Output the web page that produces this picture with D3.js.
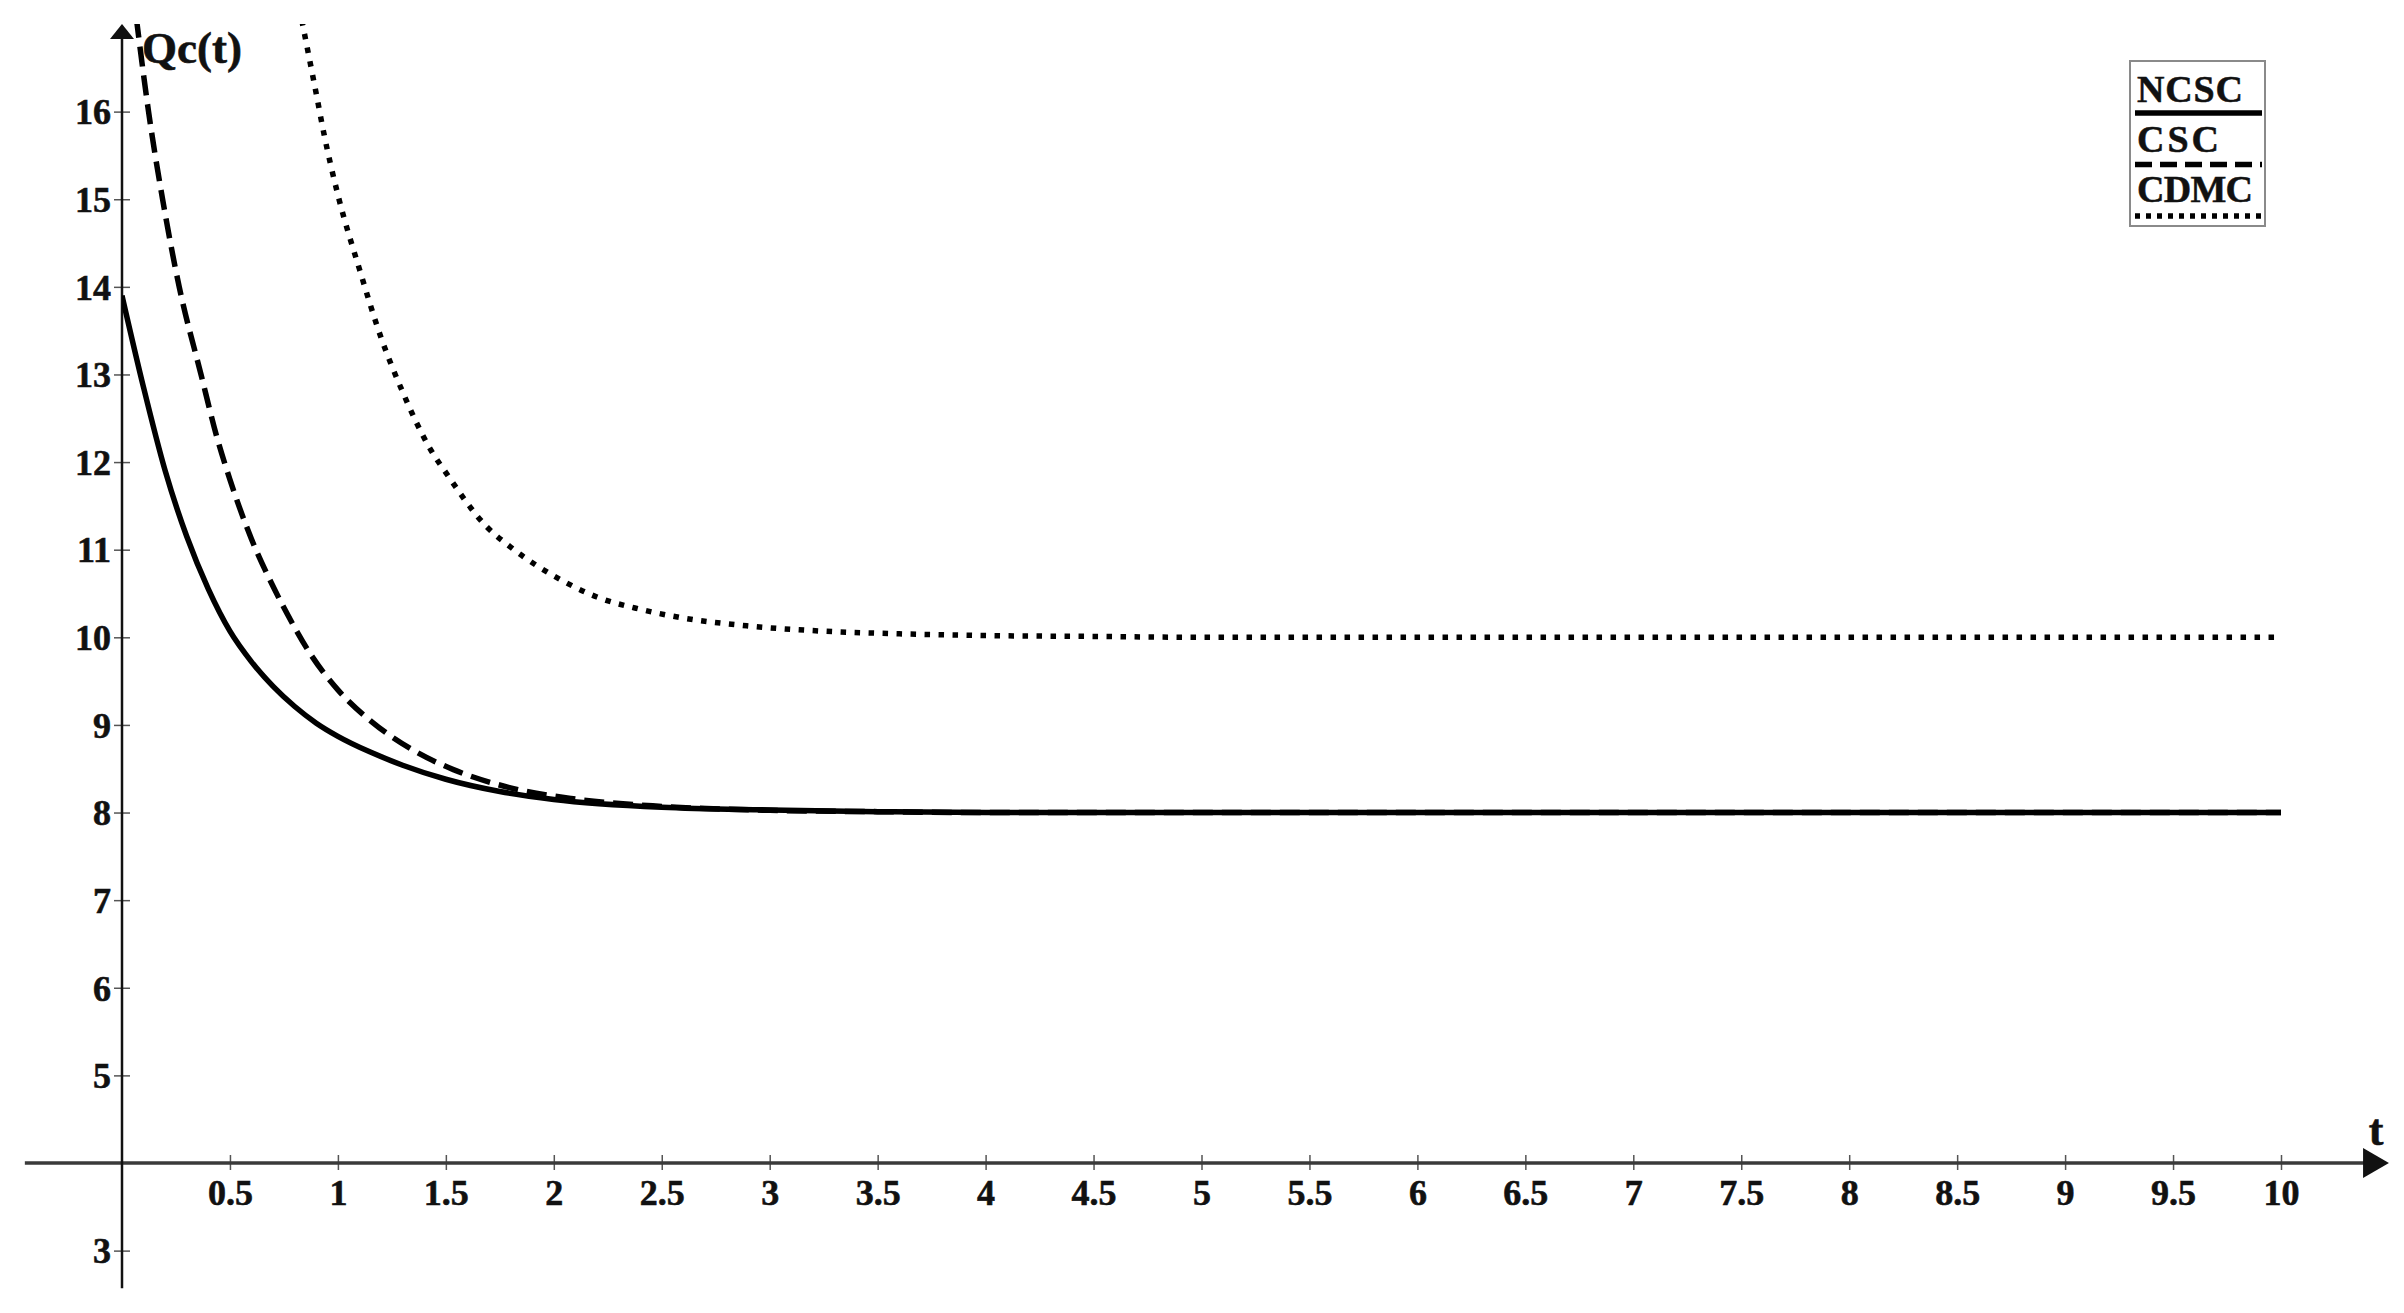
<!DOCTYPE html>
<html>
<head>
<meta charset="utf-8">
<script src="https://cdn.jsdelivr.net/npm/d3@7"></script>
<style>
  body { margin: 0; background: #fff; }
  svg { display: block; }
  text { font-family: "Liberation Serif", "Times New Roman", serif; font-weight: bold; fill: #111; }
</style>
</head>
<body>
<div id="chart"></div>
<script>
// values
var tNCSC = [0, 0.1, 0.2, 0.3, 0.4, 0.5, 0.6, 0.7, 0.8, 0.9, 1.0, 1.15, 1.3, 1.5, 1.75, 2.0, 2.5, 3.0, 3.5, 4, 5, 6, 7, 8, 9, 10];
var qNCSC = [13.9, 12.85, 11.9, 11.15, 10.55, 10.07, 9.72, 9.44, 9.21, 9.02, 8.87, 8.69, 8.54, 8.38, 8.24, 8.15, 8.06, 8.03, 8.01, 8.0, 8.0, 8.0, 8.0, 8.0, 8.0, 8.0];

var tCSC = [0.05, 0.08, 0.123, 0.188, 0.265, 0.366, 0.44, 0.5, 0.6, 0.7, 0.78, 0.87, 1.0, 1.16, 1.35, 1.535, 1.77, 2.08, 2.5, 3.0, 3.5, 4, 5, 6, 7, 8, 9, 10];
var qCSC = [17.4, 16.8, 16.0, 15.0, 14.0, 13.0, 12.28, 11.8, 11.12, 10.58, 10.2, 9.82, 9.4, 9.03, 8.71, 8.49, 8.3, 8.16, 8.07, 8.025, 8.01, 8.0, 8.0, 8.0, 8.0, 8.0, 8.0, 8.0];

var tCDMC = [0.82, 0.841, 0.9, 0.936, 1.0, 1.1, 1.2, 1.3, 1.43, 1.5, 1.69, 1.8, 2.06, 2.2, 2.4, 2.6, 2.9, 3.25, 3.6, 4.0, 4.5, 5, 6, 7, 8, 9, 10];
var qCDMC = [17.2, 16.94, 16.2, 15.74, 15.05, 14.2, 13.42, 12.8, 12.14, 11.88, 11.26, 11.03, 10.62, 10.46, 10.32, 10.22, 10.13, 10.07, 10.04, 10.02, 10.01, 10.0, 10.0, 10.0, 10.0, 10.0, 10.0];

var xTicks = [0.5, 1, 1.5, 2, 2.5, 3, 3.5, 4, 4.5, 5, 5.5, 6, 6.5, 7, 7.5, 8, 8.5, 9, 9.5, 10];
var yTicks = [3, 5, 6, 7, 8, 9, 10, 11, 12, 13, 14, 15, 16];
var legendLabels = ["NCSC", "CSC", "CDMC"];

var W = 2404, H = 1313;
var svg = d3.select("#chart").append("svg")
	.attr("width", W)
	.attr("height", H);

var x = d3.scaleLinear().domain([0, 10]).range([122, 2281]);
var y = d3.scaleLinear().domain([4, 17]).range([1163, 24]);

// line styles per series
var styles = {
	NCSC: { dash: null, legendDash: null },
	CSC: { dash: "20,9", legendDash: "17,8" },
	CDMC: { dash: "5.5,8.5", legendDash: "5,6" }
};

svg.append("clipPath").attr("id", "plot")
	.append("rect")
	.attr("x", x(0)).attr("y", y(17))
	.attr("width", x(10.2) - x(0)).attr("height", y(2.5) - y(17));

// axes
var gx = svg.append("g")
	.attr("transform", "translate(0," + y(4) + ")")
	.call(d3.axisBottom(x).tickValues(xTicks).tickFormat(d3.format("")).tickSize(8).tickPadding(8));
gx.select(".domain").remove();
gx.selectAll(".tick line").attr("y1", -8).attr("y2", 7).attr("stroke", "#555").attr("stroke-width", 1.5);
gx.selectAll(".tick text").style("font-size", "36px").attr("fill", "#111")
	.attr("stroke", "#111").attr("stroke-width", 0.6);

var gy = svg.append("g")
	.attr("transform", "translate(" + x(0) + ",0)")
	.call(d3.axisLeft(y).tickValues(yTicks).tickFormat(d3.format("d")).tickSize(8).tickPadding(3));
gy.select(".domain").remove();
gy.selectAll(".tick line").attr("x1", -8).attr("x2", 8).attr("stroke", "#555").attr("stroke-width", 1.5);
gy.selectAll(".tick text").style("font-size", "36px").attr("fill", "#111").attr("dy", "0.34em")
	.attr("stroke", "#111").attr("stroke-width", 0.6);
gx.attr("font-family", null).attr("font-size", null);
gy.attr("font-family", null).attr("font-size", null);

// x axis line and arrow
svg.append("line")
	.attr("x1", x(-0.45)).attr("x2", x(10.4))
	.attr("y1", y(4)).attr("y2", y(4))
	.attr("stroke", "#3a3a3a").attr("stroke-width", 3.5);
svg.append("path")
	.attr("d", "M" + x(10.38) + "," + (y(4) - 15) + "L" + x(10.5) + "," + y(4) + "L" + x(10.38) + "," + (y(4) + 15) + "Z")
	.attr("fill", "#111");

// y axis line and arrow
svg.append("line")
	.attr("x1", x(0)).attr("x2", x(0))
	.attr("y1", y(16.9)).attr("y2", y(2.57))
	.attr("stroke", "#111").attr("stroke-width", 2.5);
svg.append("path")
	.attr("d", "M" + (x(0) - 12) + "," + (y(17) + 15) + "L" + x(0) + "," + y(17) + "L" + (x(0) + 12) + "," + (y(17) + 15) + "Z")
	.attr("fill", "#111");

svg.append("text")
	.attr("x", 142).attr("y", 63)
	.style("font-size", "45px")
	.attr("stroke", "#111").attr("stroke-width", 0.6)
	.text("Qc(t)");
svg.append("text")
	.attr("x", 2376).attr("y", 1145)
	.attr("text-anchor", "middle")
	.style("font-size", "44px")
	.attr("stroke", "#111").attr("stroke-width", 0.6)
	.text("t");

// curves
var line = d3.line()
	.x(function(d){ return x(d[0]); })
	.y(function(d){ return y(d[1]); })
	.curve(d3.curveMonotoneX);

var series = [
	{ name: "CDMC", t: tCDMC, q: qCDMC },
	{ name: "CSC", t: tCSC, q: qCSC },
	{ name: "NCSC", t: tNCSC, q: qNCSC }
];

var gLines = svg.append("g").attr("clip-path", "url(#plot)");
gLines.selectAll("path")
	.data(series)
	.enter().append("path")
	.attr("d", function(s){ return line(d3.zip(s.t, s.q)); })
	.attr("fill", "none")
	.attr("stroke", "#000")
	.attr("stroke-width", 5.5)
	.attr("stroke-dasharray", function(s){ return styles[s.name].dash; });

// legend
var lg = svg.append("g").attr("class", "legend");
lg.append("rect")
	.attr("x", 2130).attr("y", 61)
	.attr("width", 135).attr("height", 165)
	.attr("fill", "#fff")
	.attr("stroke", "#8a8a8a").attr("stroke-width", 2);

var item = lg.selectAll("g.item")
	.data(legendLabels)
	.enter().append("g")
	.attr("class", "item")
	.attr("transform", function(d, i){ return "translate(0," + (i * 50) + ")"; });
item.append("text")
	.attr("x", 2137).attr("y", 102)
	.style("font-size", "38px")
	.attr("stroke", "#111").attr("stroke-width", 0.5)
	.attr("textLength", function(d){ return d.length == 4 ? (d == "NCSC" ? 106 : 116) : 82; })
	.text(function(d){ return d; });
item.append("line")
	.attr("x1", 2135).attr("x2", 2262)
	.attr("y1", function(d, i){ return 113 + i * 1.5; }).attr("y2", function(d, i){ return 113 + i * 1.5; })
	.attr("stroke", "#000")
	.attr("stroke-width", 5.5)
	.attr("stroke-dasharray", function(d){ return styles[d].legendDash; });
</script>
</body>
</html>
